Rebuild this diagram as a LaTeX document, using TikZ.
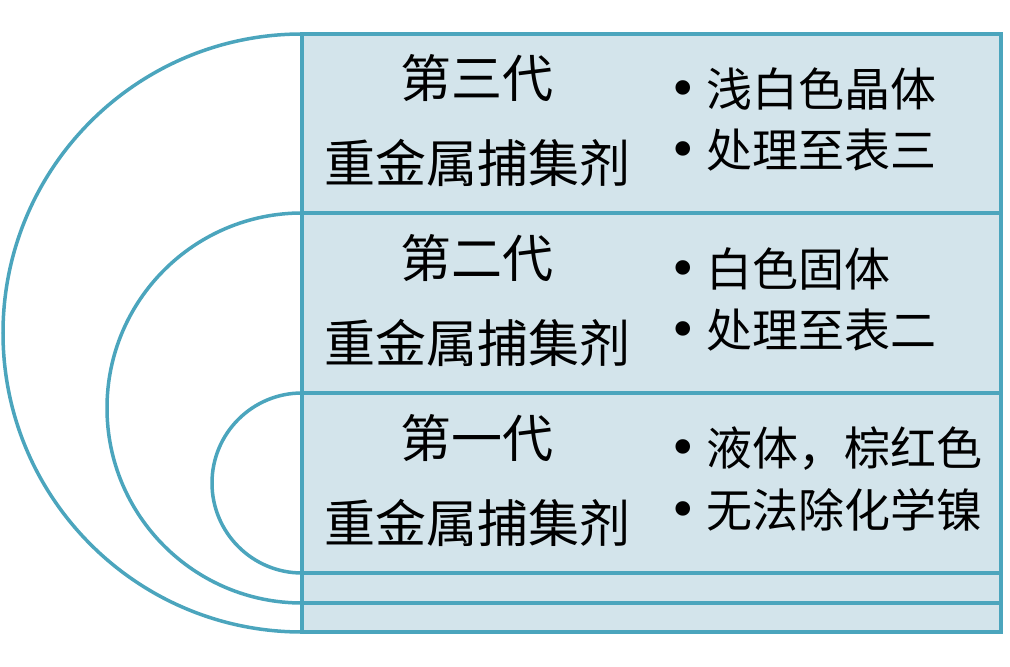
\documentclass[tikz,border=0pt]{standalone}
\usepackage{fontspec}
\usepackage{xcolor}
\usetikzlibrary{positioning}
\newfontfamily\cjk{Noto Sans CJK SC}
\newfontfamily\dotfont{DejaVu Sans}
\definecolor{rimblue}{HTML}{4BA5BD}
\definecolor{rowfill}{HTML}{D3E4EB}
\newcommand{\bul}{\makebox[38pt][l]{\dotfont\fontsize{50}{50}\selectfont •}}

\begin{document}
\begin{tikzpicture}[x=1pt, y=1pt,
  rowbox/.style={draw=rimblue, fill=rowfill, line width=3.5pt, minimum width=699pt, inner sep=0pt, outer sep=0pt},
  rim/.style={draw=rimblue, line width=3.5pt},
  gentext/.style={inner sep=0pt, font=\cjk\fontsize{51}{60}\selectfont},
  itemtext/.style={inner sep=0pt, anchor=west, font=\cjk\fontsize{46}{54}\selectfont}]
\useasboundingbox (0,0) rectangle (1010,667);

% rows
\node[rowbox, minimum height=179pt, anchor=north west] (gen3) at (302,633) {};
\node[rowbox, minimum height=180pt, anchor=north west] (gen2) at (gen3.south west) {};
\node[rowbox, minimum height=180pt, anchor=north west] (gen1) at (gen2.south west) {};
\node[rowbox, minimum height=30pt, anchor=north west] (strip1) at (gen1.south west) {};
\node[rowbox, minimum height=29pt, anchor=north west] (strip2) at (strip1.south west) {};

% arcs
\draw[rim] (gen3.north west) arc (90:270:299) coordinate (end3);
\draw[rim] (gen2.north west) arc (90:270:195) coordinate (end2);
\draw[rim] (gen1.north west) arc (90:270:90) coordinate (end1);

% third generation
\node[gentext] (g3a) at (477,589) {第三代};
\node[gentext] (g3b) at (477,504) {重金属捕集剂};
\node[itemtext] (i3a) at (668,578) {\bul 浅白色晶体};
\node[itemtext] (i3b) at (668,517) {\bul 处理至表三};

% second generation
\node[gentext] (g2a) at (477,409) {第二代};
\node[gentext] (g2b) at (477,324) {重金属捕集剂};
\node[itemtext] (i2a) at (668,398) {\bul 白色固体};
\node[itemtext] (i2b) at (668,337) {\bul 处理至表二};

% first generation
\node[gentext] (g1a) at (477,229) {第一代};
\node[gentext] (g1b) at (477,144) {重金属捕集剂};
\node[itemtext] (i1a) at (668,218) {\bul 液体，棕红色};
\node[itemtext] (i1b) at (668,157) {\bul 无法除化学镍};
\end{tikzpicture}
\end{document}
